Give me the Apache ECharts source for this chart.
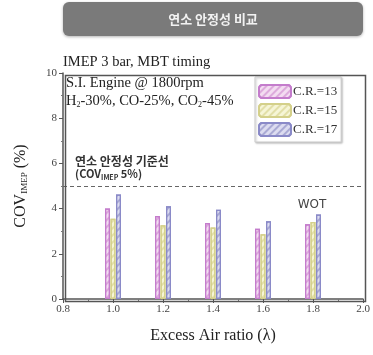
<!DOCTYPE html>
<html><head><meta charset="utf-8">
<script src="https://cdn.jsdelivr.net/npm/echarts@6/dist/echarts.min.js"></script>
<style>html,body{margin:0;padding:0;background:#fff}#c{width:373px;height:355px}</style>
</head><body><div id="c"></div>
<script>
const lambdas = [1.0, 1.2, 1.4, 1.6, 1.8];
const cr13 = [4.0, 3.67, 3.36, 3.11, 3.31];
const cr15 = [3.55, 3.26, 3.16, 2.86, 3.41];
const cr17 = [4.62, 4.1, 3.95, 3.44, 3.74];
const seriesNames = ['C.R.=13', 'C.R.=15', 'C.R.=17'];
const xTicks = [0.8, 1.0, 1.2, 1.4, 1.6, 1.8, 2.0];
const yTicks = [0, 2, 4, 6, 8, 10];
const limitValue = 5;

const serif = 'Liberation Serif';
const kr = 'Noto Sans CJK KR';
const styles = [
  {fill: '#f3dcf1', border: '#c47ccc', hatch: 'rgba(200,120,200,0.5)'},
  {fill: '#f6f5d6', border: '#d4d08a', hatch: 'rgba(210,205,130,0.55)'},
  {fill: '#dcdcf0', border: '#8a8ac8', hatch: 'rgba(130,130,190,0.55)'}
];
const vals = [cr13, cr15, cr17];

const chart = echarts.init(document.getElementById('c'), null, {renderer: 'canvas'});
const series = vals.map((v, i) => ({
  name: seriesNames[i],
  type: 'bar',
  barWidth: 5,
  barGap: '10%',
  data: lambdas.map((x, k) => [x, v[k]]),
  itemStyle: {
    color: styles[i].fill,
    borderColor: styles[i].border,
    borderWidth: 1.2,
    decal: {symbol: 'rect', dashArrayX: [1, 0], dashArrayY: [1.5, 2.5], rotation: -Math.PI / 4, color: styles[i].hatch}
  }
}));
series[0].markLine = {
  silent: true, symbol: 'none', label: {show: false},
  lineStyle: {type: [4, 3], color: '#666', width: 1.2},
  data: [{yAxis: limitValue}]
};

chart.setOption({
  animation: false,
  grid: {left: 63, right: 10, top: 73, bottom: 56},
  xAxis: {
    type: 'value', min: xTicks[0], max: xTicks[xTicks.length - 1], interval: 0.2,
    name: 'Excess Air ratio (λ)', nameLocation: 'middle', nameGap: 29,
    nameTextStyle: {fontFamily: serif, fontSize: 16, color: '#222'},
    axisLine: {show: true, onZero: false, lineStyle: {color: '#555', width: 1.5}},
    axisTick: {show: true, inside: false, length: 4, lineStyle: {color: '#555'}},
    minorTick: {show: true, splitNumber: 2, length: 2, lineStyle: {color: '#777'}},
    axisLabel: {fontFamily: serif, fontSize: 11, color: '#444', margin: 5, formatter: v => v.toFixed(1)},
    splitLine: {show: false}
  },
  yAxis: {
    type: 'value', min: yTicks[0], max: yTicks[yTicks.length - 1], interval: 2,
    name: 'COV{sub|IMEP} (%)', nameLocation: 'middle', nameGap: 34,
    nameTextStyle: {fontFamily: serif, fontSize: 16, color: '#222',
      rich: {sub: {fontFamily: serif, fontSize: 9, color: '#222', verticalAlign: 'bottom', padding: [8, 0, 0, 0]}}},
    axisLine: {show: true, lineStyle: {color: '#555', width: 1.5}},
    axisTick: {show: true, inside: false, length: 4, lineStyle: {color: '#555'}},
    minorTick: {show: true, splitNumber: 2, length: 2, lineStyle: {color: '#777'}},
    axisLabel: {fontFamily: serif, fontSize: 11, color: '#444', margin: 6},
    splitLine: {show: false}
  },
  legend: {
    show: true, orient: 'vertical', left: 255, top: 77, padding: [7, 4, 5, 3],
    itemWidth: 32, itemHeight: 13, itemGap: 4,
    backgroundColor: '#fff', borderColor: '#ccc', borderWidth: 1,
    shadowColor: 'rgba(0,0,0,0.25)', shadowBlur: 2, shadowOffsetX: 1, shadowOffsetY: 1,
    textStyle: {fontFamily: serif, fontSize: 13, color: '#333', padding: [0, 0, 0, -3]},
    data: seriesNames
  },
  series: series,
  graphic: [
    {type: 'rect', left: 63, top: 2, shape: {width: 300, height: 34, r: 6},
     style: {fill: '#7a7a7a', shadowBlur: 3, shadowColor: 'rgba(0,0,0,0.3)', shadowOffsetY: 1}},
    {type: 'text', x: 213, y: 19, style: {text: '연소 안정성 비교', fontFamily: kr, fontSize: 13, fontWeight: 'bold',
      fill: '#f2f2f2', align: 'center', verticalAlign: 'middle'}},
    {type: 'rect', left: 63, top: 73, z: 10, shape: {width: 300, height: 226},
     style: {fill: 'none', stroke: '#555', lineWidth: 1.5}},
    {type: 'text', x: 63, y: 62, style: {text: 'IMEP 3 bar, MBT timing', fontFamily: serif, fontSize: 14.5,
      fill: '#222', verticalAlign: 'middle'}},
    {type: 'text', x: 66, y: 83, style: {text: 'S.I. Engine @ 1800rpm', fontFamily: serif, fontSize: 14.5,
      fill: '#222', verticalAlign: 'middle'}},
    {type: 'text', x: 66, y: 101, style: {
      text: 'H{s|2}-30%, CO-25%, CO{s|2}-45%', fontFamily: serif, fontSize: 14.5, fill: '#222', verticalAlign: 'middle',
      rich: {s: {fontFamily: serif, fontSize: 8, fill: '#222', padding: [8, 0, 0, 0]}}}},
    {type: 'text', x: 75, y: 161, style: {text: '연소 안정성 기준선', fontFamily: kr, fontSize: 12, fontWeight: 'bold',
      fill: '#333', verticalAlign: 'middle'}},
    {type: 'text', x: 75, y: 174, style: {
      text: '(COV{s|IMEP} 5%)', fontFamily: kr, fontSize: 11, fontWeight: 'bold', fill: '#333', verticalAlign: 'middle',
      rich: {s: {fontFamily: kr, fontSize: 7, fontWeight: 'bold', fill: '#333', padding: [6, 0, 0, 0]}}}},
    {type: 'text', x: 312, y: 205, style: {text: 'WOT', fontFamily: 'DejaVu Sans', fontSize: 12,
      fill: '#444', align: 'center', verticalAlign: 'middle'}}
  ]
});
</script></body></html>
